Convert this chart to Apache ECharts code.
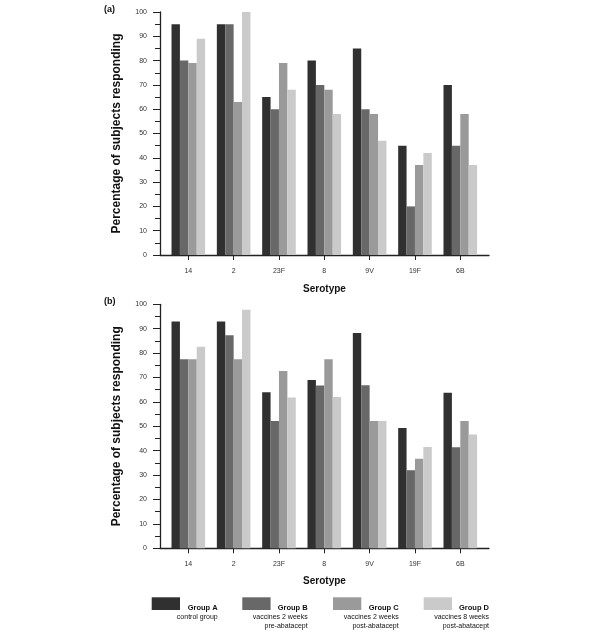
<!DOCTYPE html>
<html>
<head>
<meta charset="utf-8">
<script src="https://cdn.jsdelivr.net/npm/echarts@6/dist/echarts.min.js"></script>
<style>html,body{margin:0;padding:0;background:#fff;}#c{width:600px;height:638px;}</style>
</head>
<body>
<div id="c"></div>
<script>
var categories = ['14', '2', '23F', '8', '9V', '19F', '6B'];
var groupNames = ['Group A', 'Group B', 'Group C', 'Group D'];
var groupDesc = [
  ['control group'],
  ['vaccines 2 weeks', 'pre-abatacept'],
  ['vaccines 2 weeks', 'post-abatacept'],
  ['vaccines 8 weeks', 'post-abatacept']
];
var colors = ['#303030', '#686868', '#9a9a9a', '#cacaca'];
var yTicks = [0, 10, 20, 30, 40, 50, 60, 70, 80, 90, 100];

// Panel (a)
var aGroupA = [95, 95, 65, 80, 85, 45, 70];
var aGroupB = [80, 95, 60, 70, 60, 20, 45];
var aGroupC = [79, 63, 79, 68, 58, 37, 58];
var aGroupD = [89, 100, 68, 58, 47, 42, 37];
// Panel (b)
var bGroupA = [93, 93, 64, 69, 88.2, 49.3, 63.8];
var bGroupB = [77.5, 87.3, 52.2, 66.7, 66.8, 32, 41.4];
var bGroupC = [77.5, 77.5, 72.7, 77.5, 52.2, 36.7, 52.2];
var bGroupD = [82.6, 97.8, 61.8, 62, 52.2, 41.5, 46.6];

var panels = [
  {label: '(a)', top: 12, height: 243, data: [aGroupA, aGroupB, aGroupC, aGroupD], labelMargin: 13, nameGap: 29},
  {label: '(b)', top: 304.3, height: 244, data: [bGroupA, bGroupB, bGroupC, bGroupD], labelMargin: 12, nameGap: 28}
];

var FONT = '"Liberation Sans", Arial, Helvetica, sans-serif';
var axisColor = '#222';
var band = 45.33;
var barsLeft = 165.65;
var barsWidth = band * categories.length;

var grids = [], xAxes = [], yAxes = [], series = [], titles = [];
panels.forEach(function (p, pi) {
  var gBars = grids.length;
  grids.push({left: barsLeft, width: barsWidth, top: p.top, height: p.height, containLabel: false});
  var gAxes = grids.length;
  grids.push({left: 160, width: 329, top: p.top, height: p.height, containLabel: false});

  xAxes.push({
    type: 'category', gridIndex: gBars, data: categories, boundaryGap: true,
    axisLine: {show: false},
    axisTick: {show: true, alignWithLabel: true, length: 5, lineStyle: {color: axisColor, width: 1}},
    axisLabel: {fontSize: 7, color: '#333', margin: p.labelMargin, fontFamily: FONT}
  });
  yAxes.push({type: 'value', gridIndex: gBars, min: 0, max: 100, show: false});

  xAxes.push({
    type: 'value', gridIndex: gAxes, min: 0, max: 1,
    axisLine: {show: true, lineStyle: {color: axisColor, width: 1.3}},
    axisTick: {show: false}, axisLabel: {show: false}, splitLine: {show: false},
    name: 'Serotype', nameLocation: 'middle', nameGap: p.nameGap,
    nameTextStyle: {fontSize: 10, fontWeight: 'bold', color: '#111', fontFamily: FONT}
  });
  yAxes.push({
    type: 'value', gridIndex: gAxes, min: 0, max: 100, interval: 10,
    axisLine: {show: true, lineStyle: {color: axisColor, width: 1.3}},
    axisTick: {show: true, length: 7, lineStyle: {color: axisColor, width: 1}},
    minorTick: {show: true, splitNumber: 2, length: 5, lineStyle: {color: axisColor, width: 1}},
    splitLine: {show: false},
    axisLabel: {fontSize: 7, color: '#333', margin: 13, fontFamily: FONT,
      formatter: function (v) { return yTicks.indexOf(v) >= 0 ? String(v) : ''; }},
    name: 'Percentage of subjects responding', nameLocation: 'middle', nameGap: 37,
    nameTextStyle: {fontSize: 12, fontWeight: 'bold', color: '#111', fontFamily: FONT}
  });

  p.data.forEach(function (vals, gi) {
    series.push({
      type: 'bar', name: groupNames[gi], xAxisIndex: gBars, yAxisIndex: gBars,
      data: vals, barWidth: 8.4, barGap: '0%',
      itemStyle: {color: colors[gi]}, silent: true, animation: false
    });
  });

  titles.push({text: p.label, left: 104, top: p.top - 7,
    textStyle: {fontSize: 9, fontWeight: 'bold', color: '#111', fontFamily: FONT}, padding: 0});
});

var legendLefts = [151.7, 242.3, 333, 423.7];
var legendTextRight = [217.7, 307.7, 398.7, 489];
var legends = groupNames.map(function (n, i) {
  return {
    data: [n], left: legendLefts[i], top: 597.3, padding: 0,
    itemWidth: 28.3, itemHeight: 12.7, icon: 'rect', itemGap: 0,
    formatter: function () { return ''; }, selectedMode: false,
    textStyle: {fontSize: 1}
  };
});

var graphics = [];
groupNames.forEach(function (n, i) {
  var lines = [n].concat(groupDesc[i]);
  lines.forEach(function (t, li) {
    graphics.push({
      type: 'text', right: 600 - legendTextRight[i], top: 603.5 + li * 9.6,
      style: {text: t, fontSize: li === 0 ? 7.5 : 7, fontWeight: li === 0 ? 'bold' : 'normal',
        fill: '#111', fontFamily: FONT, textAlign: 'right'}
    });
  });
});

var chart = echarts.init(document.getElementById('c'), null, {renderer: 'canvas'});
chart.setOption({
  backgroundColor: '#fff',
  animation: false,
  title: titles,
  grid: grids,
  xAxis: xAxes,
  yAxis: yAxes,
  legend: legends,
  series: series,
  graphic: graphics
});
</script>
</body>
</html>
